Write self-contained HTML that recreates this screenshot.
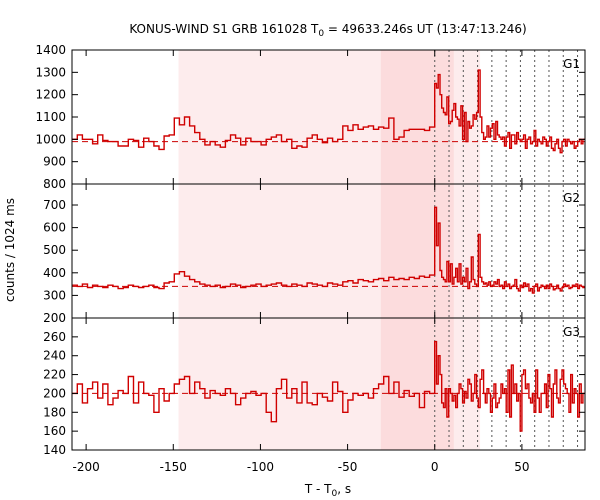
<!DOCTYPE html>
<html><head><meta charset="utf-8"><style>
body{margin:0;background:#fff}
svg{display:block;font-family:"DejaVu Sans","Liberation Sans",sans-serif;font-size:12px}
</style></head><body>
<svg id="c" width="600" height="500"></svg>
<script>
const bgStart=-208, bgEnd=0, burstBin=1;
const dottedTimes=[0,8.192,16.384,24.576,32.768,40.96,49.152,57.344,65.536,73.728,81.92];
const xTicks=[-200,-150,-100,-50,0,50];
const g1Bg=[1000,1020,1000,1000,980,1020,995,990,990,970,970,1000,995,965,1005,990,970,955,1015,1020,1095,1065,1100,1060,1030,1000,975,990,975,965,995,1020,1005,975,1005,990,990,975,1000,1010,1020,990,1000,960,970,965,1005,1020,1000,985,1005,990,1000,1060,1040,1065,1045,1055,1060,1045,1055,1050,1095,1000,1010,1040,1045,1045,1045,1040,1055];
const g1Burst=[1250,1230,1290,1200,1140,1120,1110,1190,1070,1080,1130,1160,1100,1090,1060,1150,1000,1120,990,1080,1050,1060,1110,1090,1120,1310,1100,1030,1000,1010,1060,1010,1050,1070,1000,1080,1020,1010,1000,1010,970,1010,1030,960,1020,1020,980,1030,1000,990,1000,1020,960,1000,1010,980,990,1040,970,1000,990,980,1010,1000,970,990,1010,960,950,980,1000,960,940,990,1000,970,1000,990,980,990,960,970,990,1000,980,1000];
const g2Bg=[345,340,350,335,345,340,335,345,340,330,335,345,340,335,340,345,335,330,355,360,395,405,385,370,360,350,345,340,345,335,340,350,345,335,340,345,350,340,345,350,355,345,340,350,345,340,355,350,345,340,355,350,345,360,365,355,370,365,360,370,375,365,380,370,375,370,380,375,385,380,390];
const g2Burst=[690,520,620,410,380,370,360,450,360,440,350,380,420,360,440,350,380,360,420,330,360,470,370,350,340,570,380,360,350,355,345,360,340,345,360,350,370,340,345,330,360,340,350,330,340,345,370,330,320,345,335,355,340,350,320,330,310,340,350,320,335,345,340,330,345,330,350,340,325,330,345,330,320,335,350,340,345,330,335,345,340,350,330,345,340,335];
const g3Bg=[200,210,190,205,212,195,210,188,195,203,200,218,190,212,200,198,180,205,192,200,210,215,218,200,212,205,195,203,200,198,205,200,188,195,200,202,198,200,180,170,205,215,195,205,190,212,190,188,200,196,192,212,202,180,193,200,198,200,195,205,210,218,200,212,196,203,197,200,185,202,200];
const g3Burst=[255,210,240,220,190,185,205,175,205,200,192,198,185,200,210,205,190,202,195,215,210,192,200,220,195,185,215,225,200,190,205,200,180,195,210,185,190,195,210,200,205,180,225,175,230,200,210,192,200,160,220,225,205,210,195,190,200,180,225,195,180,200,200,210,185,220,205,175,210,225,195,190,215,225,210,205,200,180,220,190,205,200,175,210,190,200];
const g1Ticks=[800,900,1000,1100,1200,1300,1400];
const g2Ticks=[200,300,400,500,600,700];
const g3Ticks=[140,160,180,200,220,240,260];
const bgLevels=[990,340,200];

const NS="http://www.w3.org/2000/svg";
const svg=document.getElementById('c');
const L=72,R=585,xMin=-208.1,xMax=86.2;
function X(t){return L+(t-xMin)/(xMax-xMin)*(R-L);}
function mk(tag,attrs,parent){const e=document.createElementNS(NS,tag);for(const k in attrs)e.setAttribute(k,attrs[k]);(parent||svg).appendChild(e);return e;}

const panels=[
 {name:'g1',top:50,bot:184,min:800,max:1400,bg:g1Bg,burst:g1Burst,ticks:g1Ticks,label:'G1'},
 {name:'g2',top:184,bot:318,min:200,max:793,bg:g2Bg,burst:g2Burst,ticks:g2Ticks,label:'G2'},
 {name:'g3',top:318,bot:450,min:140,max:280,bg:g3Bg,burst:g3Burst,ticks:g3Ticks,label:'G3'}
];

const s1=mk('rect',{x:X(-147),y:50,width:X(-31)-X(-147),height:400,fill:'#fdeced'});


const s2=mk('rect',{x:X(-31),y:50,width:X(11)-X(-31),height:400,fill:'#fcdcdd'});


const s3=mk('rect',{x:X(11),y:50,width:X(26)-X(11),height:400,fill:'#fdeced'});



dottedTimes.forEach(t=>{
 const d=mk('line',{x1:X(t),x2:X(t),y1:50,y2:450,stroke:'#555','stroke-width':1,'stroke-dasharray':'2,3'});
 
 
});

panels.forEach((p,pi)=>{
 const Y=v=>p.bot-(v-p.min)/(p.max-p.min)*(p.bot-p.top);
 const bl=mk('line',{x1:L,x2:R,y1:Y(bgLevels[pi]),y2:Y(bgLevels[pi]),stroke:'#c00','stroke-width':1,'stroke-dasharray':'6,4'});
 
 
 const w=(bgEnd-bgStart)/p.bg.length;
 let d='';
 p.bg.forEach((v,i)=>{const x0=X(bgStart+i*w),x1=X(bgStart+(i+1)*w);d+=(i?'L':'M')+x0.toFixed(1)+','+Y(v).toFixed(1)+'L'+x1.toFixed(1)+','+Y(v).toFixed(1);});
 p.burst.forEach((v,i)=>{const x0=X(i*burstBin),x1=X((i+1)*burstBin);if(x0>=R)return;d+='L'+x0.toFixed(1)+','+Y(v).toFixed(1)+'L'+Math.min(x1,R).toFixed(1)+','+Y(v).toFixed(1);});
 const pl=mk('path',{d:d,fill:'none',stroke:'#d00000','stroke-width':1.4});
 
 
 const fr=mk('rect',{x:L,y:p.top,width:R-L,height:p.bot-p.top,fill:'none',stroke:'#000','stroke-width':1});
 
 
 p.ticks.forEach(v=>{
  const y=Y(v);
  mk('line',{x1:L,x2:L+6,y1:y,y2:y,stroke:'#000'});
  mk('line',{x1:R-6,x2:R,y1:y,y2:y,stroke:'#000'});
  const t=mk('text',{x:L-6,y:y+4,'text-anchor':'end',fill:'#000'});
  t.textContent=v;
  
  
 });
 xTicks.forEach(v=>{
  const x=X(v);
  mk('line',{x1:x,x2:x,y1:p.bot,y2:p.bot-6,stroke:'#000'});
  mk('line',{x1:x,x2:x,y1:p.top,y2:p.top+6,stroke:'#000'});
 });
 const lb=mk('text',{x:R-5,y:p.top+18,'text-anchor':'end',fill:'#000'});
 lb.textContent=p.label;
 
 
});

xTicks.forEach(v=>{
 const t=mk('text',{x:X(v),y:471,'text-anchor':'middle',fill:'#000'});
 t.textContent=v;
 
 
});
</script>
<svg width="600" height="500" style="position:absolute;left:0;top:0;font-family:'DejaVu Sans','Liberation Sans',sans-serif;font-size:12px">
<text x="328" y="33" text-anchor="middle">KONUS-WIND S1 GRB 161028 T<tspan font-size="9" dy="3">0</tspan><tspan dy="-3"> = 49633.246s UT (13:47:13.246)</tspan></text>
<text x="328" y="493" text-anchor="middle">T - T<tspan font-size="9" dy="3">0</tspan><tspan dy="-3">, s</tspan></text>
<text transform="translate(14,250) rotate(-90)" text-anchor="middle">counts / 1024 ms</text>
</svg>
</body></html>
